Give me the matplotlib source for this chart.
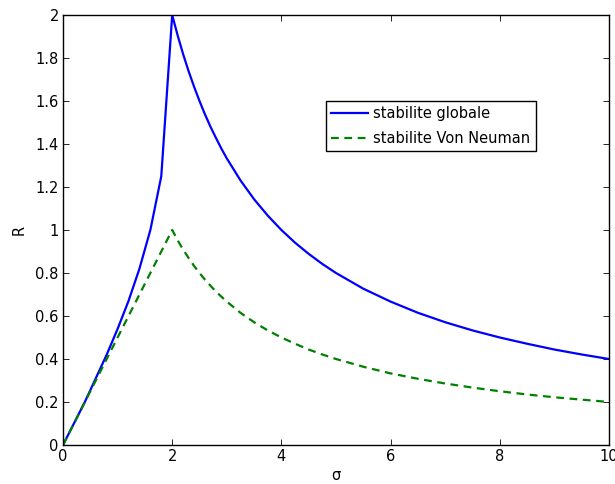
import numpy as np
import matplotlib
matplotlib.use("Agg")
import matplotlib.pyplot as plt

plt.rcParams['font.family'] = ['DejaVu Sans']
plt.rcParams['font.size'] = 10.5

# values
sigma = [0, 0.2, 0.4, 0.6, 0.8, 1.0, 1.2, 1.4, 1.6, 1.8, 2.0,
         2.1, 2.2, 2.3, 2.4, 2.5, 2.6, 2.7, 2.8, 2.9, 3.0,
         3.25, 3.5, 3.75, 4.0, 4.25, 4.5, 4.75, 5.0, 5.5, 6.0,
         6.5, 7.0, 7.5, 8.0, 8.5, 9.0, 9.5, 10.0]
r_globale = [0, 0.1, 0.2, 0.31, 0.42, 0.54, 0.67, 0.82, 1.0, 1.25, 2.0,
             1.905, 1.818, 1.739, 1.667, 1.6, 1.538, 1.481, 1.429, 1.379, 1.333,
             1.231, 1.143, 1.067, 1.0, 0.941, 0.889, 0.842, 0.8, 0.727, 0.667,
             0.615, 0.571, 0.533, 0.5, 0.471, 0.444, 0.421, 0.4]
r_neuman = [0, 0.1, 0.2, 0.3, 0.4, 0.5, 0.6, 0.7, 0.8, 0.9, 1.0,
            0.952, 0.909, 0.870, 0.833, 0.8, 0.769, 0.741, 0.714, 0.690, 0.667,
            0.615, 0.571, 0.533, 0.5, 0.471, 0.444, 0.421, 0.4, 0.364, 0.333,
            0.308, 0.286, 0.267, 0.25, 0.235, 0.222, 0.211, 0.2]
labels = ['stabilite globale', 'stabilite Von Neuman']

fig = plt.figure(figsize=(6.15, 4.84), dpi=100)
ax = fig.add_axes([63/615, 39/484, 546/615, 430/484])

ax.plot(sigma, r_globale, color='#0000ff', lw=1.6, label=labels[0])
ax.plot(sigma, r_neuman, color='#008000', lw=1.6, ls=(0, (3.5, 2.5)), label=labels[1])

ax.set_xlim(0, 10)
ax.set_ylim(0, 2)
ax.set_xticks(np.arange(0, 11, 2))
ax.set_yticks(np.arange(0, 2.01, 0.2))
ax.set_yticklabels(['0', '0.2', '0.4', '0.6', '0.8', '1', '1.2', '1.4', '1.6', '1.8', '2'])
ax.tick_params(direction='in', top=True, right=True, length=4, width=0.6, pad=3)
for s in ax.spines.values():
    s.set_linewidth(1.0)

ax.set_xlabel('σ', labelpad=3)
ax.set_ylabel('R', labelpad=6)

leg = ax.legend(loc='upper left', bbox_to_anchor=(326/615, 1 - 101/484),
                bbox_transform=fig.transFigure, fancybox=False, framealpha=1,
                edgecolor='black', handlelength=2.5, handletextpad=0.4,
                borderpad=0.35, labelspacing=0.7, borderaxespad=0)
leg.get_frame().set_linewidth(1.0)

fig.savefig('out.png', dpi=100)
